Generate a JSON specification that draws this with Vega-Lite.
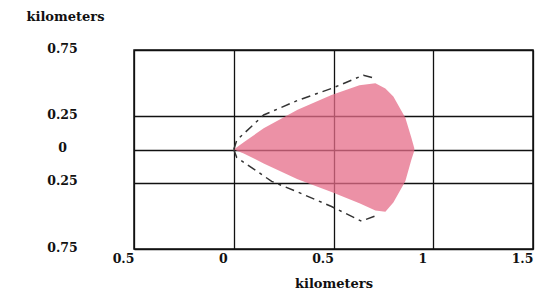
{
  "$schema": "https://vega.github.io/schema/vega-lite/v6.json",
  "autosize": {"type": "none"},
  "width": 399,
  "height": 199,
  "padding": {"left": 134, "top": 50, "right": 2, "bottom": 45},
  "background": "white",
  "config": {
    "view": {"stroke": "#111", "strokeWidth": 1.5},
    "axis": {
      "labelFont": "DejaVu Serif",
      "labelFontWeight": "bold",
      "labelFontSize": 12.5,
      "labelColor": "#111",
      "titleFont": "DejaVu Serif",
      "titleFontWeight": "bold",
      "titleFontSize": 13,
      "titleColor": "#111",
      "grid": true,
      "gridColor": "#111",
      "gridWidth": 1.3,
      "gridOpacity": 1,
      "ticks": false,
      "domain": false
    }
  },
  "datasets": {
    "fan": [
      {"x": 0.0, "top": 0.0, "bottom": 0.0},
      {"x": 0.05, "top": 0.055, "bottom": -0.03},
      {"x": 0.15, "top": 0.16, "bottom": -0.105},
      {"x": 0.32, "top": 0.30, "bottom": -0.225},
      {"x": 0.49, "top": 0.41, "bottom": -0.32},
      {"x": 0.63, "top": 0.485, "bottom": -0.405},
      {"x": 0.71, "top": 0.50, "bottom": -0.46},
      {"x": 0.76, "top": 0.46, "bottom": -0.47},
      {"x": 0.80, "top": 0.40, "bottom": -0.40},
      {"x": 0.86, "top": 0.24, "bottom": -0.24},
      {"x": 0.89, "top": 0.09, "bottom": -0.08},
      {"x": 0.905, "top": 0.01, "bottom": -0.01}
    ],
    "dash": [
      {"side": "upper", "o": 0, "x": 0.0, "y": 0.0},
      {"side": "upper", "o": 1, "x": 0.015, "y": 0.07},
      {"side": "upper", "o": 2, "x": 0.15, "y": 0.26},
      {"side": "upper", "o": 3, "x": 0.32, "y": 0.37},
      {"side": "upper", "o": 4, "x": 0.49, "y": 0.46},
      {"side": "upper", "o": 5, "x": 0.65, "y": 0.56},
      {"side": "upper", "o": 6, "x": 0.71, "y": 0.535},
      {"side": "lower", "o": 0, "x": 0.0, "y": 0.0},
      {"side": "lower", "o": 1, "x": 0.015, "y": -0.06},
      {"side": "lower", "o": 2, "x": 0.19, "y": -0.24},
      {"side": "lower", "o": 3, "x": 0.32, "y": -0.32},
      {"side": "lower", "o": 4, "x": 0.49, "y": -0.43},
      {"side": "lower", "o": 5, "x": 0.64, "y": -0.54},
      {"side": "lower", "o": 6, "x": 0.71, "y": -0.50}
    ]
  },
  "layer": [
    {
      "data": {"name": "fan"},
      "mark": {"type": "area", "color": "#e56c88", "fillOpacity": 0.75, "interpolate": "linear"},
      "encoding": {
        "x": {
          "field": "x", "type": "quantitative",
          "scale": {"domain": [-0.5, 1.5], "nice": false, "zero": false},
          "axis": {
            "values": [-0.5, 0, 0.5, 1, 1.5],
            "labelExpr": "format(abs(datum.value), '~g')",
            "labelOffset": -11,
            "labelPadding": 3,
            "labelBaseline": "top",
            "labelFlush": false,
            "title": "kilometers",
            "titlePadding": 13
          }
        },
        "y": {
          "field": "top", "type": "quantitative",
          "scale": {"domain": [-0.75, 0.75], "nice": false, "zero": false},
          "axis": {
            "values": [-0.75, -0.25, 0, 0.25, 0.75],
            "labelExpr": "format(abs(datum.value), '.2~f')",
            "labelAlign": "center",
            "labelBaseline": "middle",
            "labelPadding": 72,
            "labelOffset": -2,
            "labelFlush": false,
            "title": "kilometers",
            "titleAngle": 0,
            "titleAlign": "center",
            "titleBaseline": "middle",
            "titleX": -69,
            "titleY": -34
          }
        },
        "y2": {"field": "bottom"}
      }
    },
    {
      "data": {"name": "dash"},
      "mark": {"type": "line", "color": "#333", "strokeWidth": 1.5, "strokeDash": [9, 5, 3, 5]},
      "encoding": {
        "x": {"field": "x", "type": "quantitative"},
        "y": {"field": "y", "type": "quantitative"},
        "detail": {"field": "side"},
        "order": {"field": "o"}
      }
    }
  ]
}
